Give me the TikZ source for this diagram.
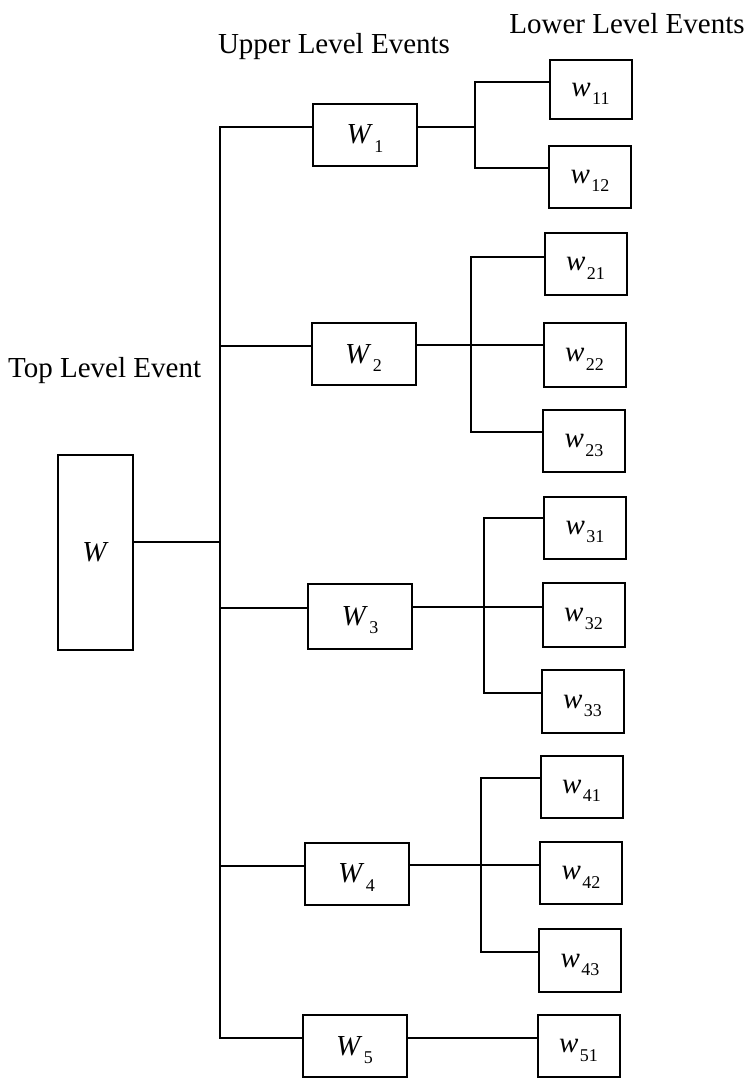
\documentclass[tikz,border=0pt]{standalone}
\usepackage{fontspec}
\setmainfont{Liberation Serif}
\tikzset{
  box/.style={draw, line width=2pt, inner sep=0pt, font=\fontsize{29}{29}\selectfont},
  ubox/.style={box, minimum width=104pt, minimum height=62pt},
  lbox/.style={box, minimum width=82pt, minimum height=62pt},
  conn/.style={line width=2pt},
  hdr/.style={font=\fontsize{29}{29}\selectfont, inner sep=0pt, anchor=base}
}
\newcommand{\ev}[2]{\textit{#1}\kern0.05em\raisebox{-0.3em}[0pt][0pt]{\fontsize{18}{18}\selectfont #2}}
\begin{document}
\begin{tikzpicture}[x=1pt,y=-1pt]
\useasboundingbox (0,0) rectangle (749,1079);

% headings
\node[hdr] (hlow) at (627,33) {Lower Level Events};
\node[hdr] (hup) at (334,53) {Upper Level Events};
\node[hdr, anchor=base west] (htop) at (8,377) {Top Level Event};

% top event
\node[box, minimum width=75pt, minimum height=195pt] (W) at (95.5,552.5) {\textit{W}};

% upper level events
\node[ubox] (W1) at (365,134.5) {\ev{W}{1}};
\node[ubox] (W2) at (363.5,354) {\ev{W}{2}};
\node[ubox, minimum height=65pt] (W3) at (360,616) {\ev{W}{3}};
\node[ubox] (W4) at (356.5,873.5) {\ev{W}{4}};
\node[ubox] (W5) at (354.5,1046) {\ev{W}{5}};

% lower level events
\node[lbox, minimum height=59pt] (w11) at (590.5,89.5) {\ev{w}{11}};
\node[lbox] (w12) at (590,176.5) {\ev{w}{12}};
\node[lbox] (w21) at (585.5,264) {\ev{w}{21}};
\node[lbox, minimum height=64pt] (w22) at (584.5,355) {\ev{w}{22}};
\node[lbox] (w23) at (584,441) {\ev{w}{23}};
\node[lbox] (w31) at (585,527.5) {\ev{w}{31}};
\node[lbox, minimum height=64pt] (w32) at (583.5,614.5) {\ev{w}{32}};
\node[lbox, minimum height=63pt] (w33) at (582.5,701.5) {\ev{w}{33}};
\node[lbox] (w41) at (581.5,786.5) {\ev{w}{41}};
\node[lbox] (w42) at (581,873) {\ev{w}{42}};
\node[lbox, minimum height=63pt] (w43) at (580,960.5) {\ev{w}{43}};
\node[lbox] (w51) at (578.5,1046) {\ev{w}{51}};

% trunk
\coordinate (t1) at (220,127);
\coordinate (t2) at (220,346);
\coordinate (t3) at (220,608);
\coordinate (t4) at (220,866);
\coordinate (t5) at (220,1038);
\coordinate (tw) at (220,542);
\draw[conn] (W1.west |- t1) -- (t1) -- (t5) -- (W5.west |- t5);
\draw[conn] (W.east |- tw) -- (tw);
\draw[conn] (t2) -- (W2.west |- t2);
\draw[conn] (t3) -- (W3.west |- t3);
\draw[conn] (t4) -- (W4.west |- t4);

% branch 1
\coordinate (b1a) at (475,82);
\coordinate (b1m) at (475,127);
\coordinate (b1b) at (475,168);
\draw[conn] (W1.east |- b1m) -- (b1m);
\draw[conn] (w11.west |- b1a) -- (b1a) -- (b1b) -- (w12.west |- b1b);

% branch 2
\coordinate (b2a) at (471,257);
\coordinate (b2m) at (471,345);
\coordinate (b2b) at (471,432);
\draw[conn] (W2.east |- b2m) -- (w22.west |- b2m);
\draw[conn] (w21.west |- b2a) -- (b2a) -- (b2b) -- (w23.west |- b2b);

% branch 3
\coordinate (b3a) at (484,518);
\coordinate (b3m) at (484,607);
\coordinate (b3b) at (484,693);
\draw[conn] (W3.east |- b3m) -- (w32.west |- b3m);
\draw[conn] (w31.west |- b3a) -- (b3a) -- (b3b) -- (w33.west |- b3b);

% branch 4
\coordinate (b4a) at (481,778);
\coordinate (b4m) at (481,865);
\coordinate (b4b) at (481,952);
\draw[conn] (W4.east |- b4m) -- (w42.west |- b4m);
\draw[conn] (w41.west |- b4a) -- (b4a) -- (b4b) -- (w43.west |- b4b);

% branch 5
\draw[conn] (W5.east |- t5) -- (w51.west |- t5);
\end{tikzpicture}
\end{document}
